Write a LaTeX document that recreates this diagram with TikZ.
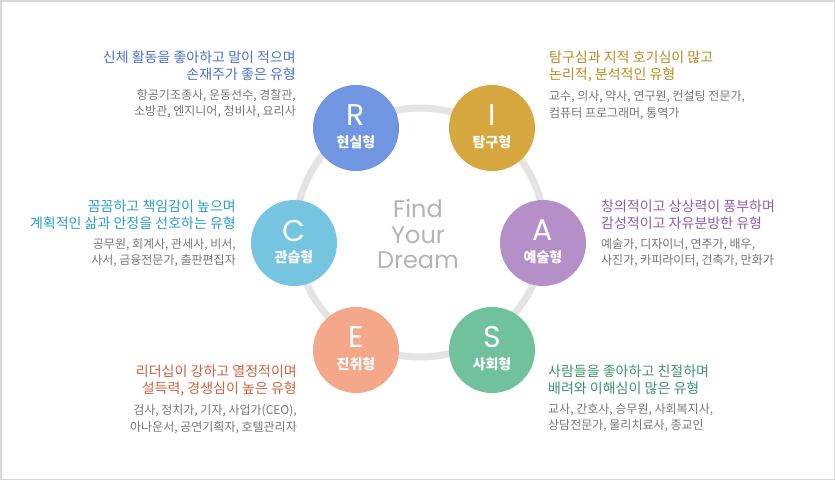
\documentclass[tikz,border=0pt]{standalone}
\usepackage{fontspec}
\setmainfont{Noto Sans CJK KR}
\newfontfamily\dreamfont{Poppins}
\usetikzlibrary{positioning}

\definecolor{rcol}{HTML}{7096E2}
\definecolor{icol}{HTML}{D6A63F}
\definecolor{acol}{HTML}{B58FC7}
\definecolor{ccol}{HTML}{75C4E0}
\definecolor{ecol}{HTML}{F5A78A}
\definecolor{scol}{HTML}{6FC29B}
\definecolor{rtxt}{HTML}{4A72C9}
\definecolor{itxt}{HTML}{B98B1E}
\definecolor{atxt}{HTML}{8E5BB0}
\definecolor{ctxt}{HTML}{2A9DCA}
\definecolor{etxt}{HTML}{D3613B}
\definecolor{stxt}{HTML}{3B9567}
\definecolor{descgray}{HTML}{777777}
\definecolor{ringgray}{HTML}{E4E4E4}
\definecolor{framegray}{HTML}{D9D9D9}
\definecolor{dreamgray}{HTML}{B4B4B4}

\begin{document}
\begin{tikzpicture}[
    x=1pt, y=-1pt,
    bubble/.style={circle, fill=#1, minimum size=86pt, inner sep=0pt},
    letter/.style={text=white, inner sep=0pt, font=\dreamfont\fontsize{30}{30}\selectfont},
    kind/.style={text=white, inner sep=0pt, font=\fontsize{14}{14}\selectfont\bfseries},
    title/.style={text=#1, inner sep=0pt, font=\fontsize{14}{17}\selectfont},
    desc/.style={text=descgray, inner sep=0pt, font=\fontsize{12}{16.5}\selectfont},
    dream/.style={text=dreamgray, inner sep=0pt, align=center, font=\dreamfont\fontsize{24}{25.5}\selectfont}
]
\useasboundingbox (0,0) rectangle (835,480);
\draw[framegray, line width=1.5pt] (0.75,0.75) rectangle (834.25,479.25);

% kruh
\node[circle, draw=ringgray, line width=7pt, minimum size=249pt, inner sep=0pt] (ring) at (420,232.5) {};
\node[dream] (find) at (418,234) {Find\\Your\\Dream};

% typy
\node[bubble=rcol] (R) at (356,128) {};
\node[bubble=icol] (I) at (492,128) {};
\node[bubble=ccol] (C) at (294,243) {};
\node[bubble=acol] (A) at (543,243) {};
\node[bubble=ecol] (E) at (356,350) {};
\node[bubble=scol] (S) at (492,350) {};

\node[letter] (Rl) at ([yshift=12.5pt]R.center) {R};
\node[kind]   (Rk) at ([yshift=-14pt]R.center) {현실형};
\node[letter] (Il) at ([yshift=12.5pt]I.center) {I};
\node[kind]   (Ik) at ([yshift=-14pt]I.center) {탐구형};
\node[letter] (Cl) at ([yshift=12.5pt]C.center) {C};
\node[kind]   (Ck) at ([yshift=-14pt]C.center) {관습형};
\node[letter] (Al) at ([yshift=12.5pt]A.center) {A};
\node[kind]   (Ak) at ([yshift=-14pt]A.center) {예술형};
\node[letter] (El) at ([yshift=12.5pt]E.center) {E};
\node[kind]   (Ek) at ([yshift=-14pt]E.center) {진취형};
\node[letter] (Sl) at ([yshift=12.5pt]S.center) {S};
\node[kind]   (Sk) at ([yshift=-14pt]S.center) {사회형};

% popisky vlevo
\node[title=rtxt, align=right, anchor=north east] (Rt) at (296,51) {신체 활동을 좋아하고 말이 적으며\\손재주가 좋은 유형};
\node[desc, align=right, below=8pt of Rt.south east, anchor=north east] (Rd) {항공기조종사, 운동선수, 경찰관,\\소방관, 엔지니어, 정비사, 요리사};

\node[title=ctxt, align=right, anchor=north east] (Ct) at (236,200) {꼼꼼하고 책임감이 높으며\\계획적인 삶과 안정을 선호하는 유형};
\node[desc, align=right, below=8pt of Ct.south east, anchor=north east] (Cd) {공무원, 회계사, 관세사, 비서,\\사서, 금융전문가, 출판편집자};

\node[title=etxt, align=right, anchor=north east] (Et) at (297,365) {리더십이 강하고 열정적이며\\설득력, 경생심이 높은 유형};
\node[desc, align=right, below=8pt of Et.south east, anchor=north east] (Ed) {검사, 정치가, 기자, 사업가(CEO),\\아나운서, 공연기획자, 호텔관리자};

% popisky vpravo
\node[title=itxt, align=left, anchor=north west] (It) at (549,51) {탐구심과 지적 호기심이 많고\\논리적, 분석적인 유형};
\node[desc, align=left, below=8pt of It.south west, anchor=north west] (Id) {교수, 의사, 약사, 연구원, 컨설팅 전문가,\\컴퓨터 프로그래머, 통역가};

\node[title=atxt, align=left, anchor=north west] (At) at (601,200) {창의적이고 상상력이 풍부하며\\감성적이고 자유분방한 유형};
\node[desc, align=left, below=8pt of At.south west, anchor=north west] (Ad) {예술가, 디자이너, 연주가, 배우,\\사진가, 카피라이터, 건축가, 만화가};

\node[title=stxt, align=left, anchor=north west] (St) at (548,365) {사람들을 좋아하고 친절하며\\배려와 이해심이 많은 유형};
\node[desc, align=left, below=8pt of St.south west, anchor=north west] (Sd) {교사, 간호사, 승무원, 사회복지사,\\상담전문가, 물리치료사, 종교인};

\end{tikzpicture}
\end{document}
